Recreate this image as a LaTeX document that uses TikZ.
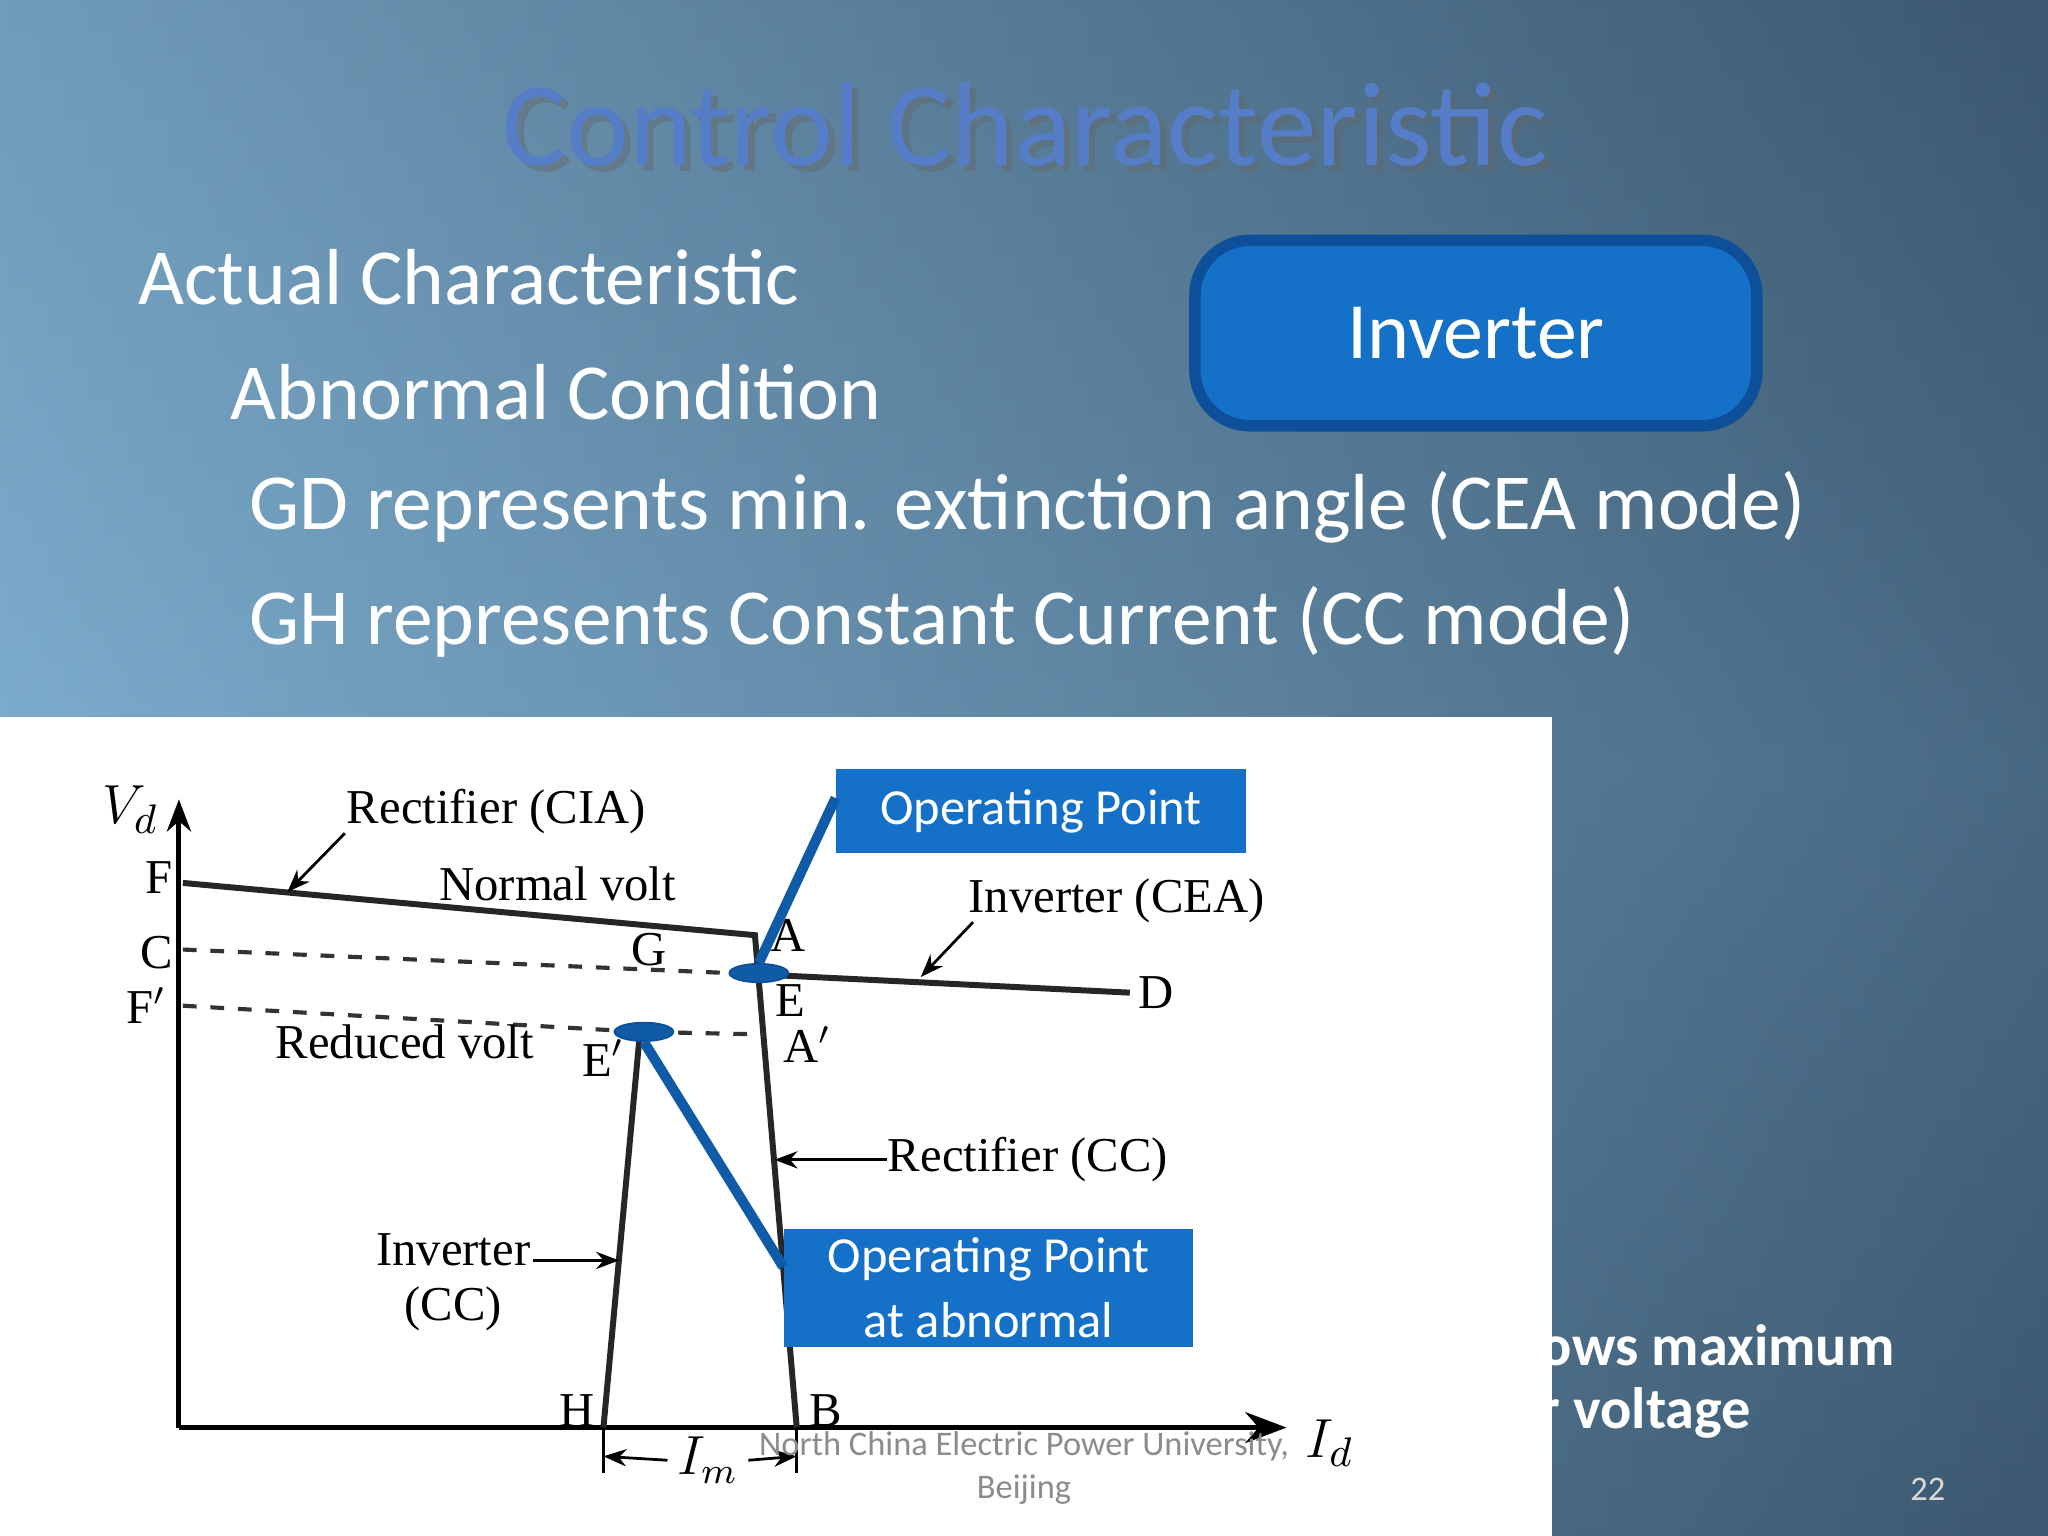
\documentclass[tikz,border=0pt]{standalone}
\usepackage{fontspec}
\setmainfont{Carlito}
\newfontfamily\gfont{Liberation Serif}
\usetikzlibrary{arrows.meta,shapes.geometric}
\definecolor{boxblue}{HTML}{1570C8}
\definecolor{boxedge}{HTML}{0E4F9A}
\definecolor{ptblue}{HTML}{0F5BA8}
\tikzset{
  lbl/.style={font=\gfont\fontsize{10.6}{12}\selectfont, inner sep=0pt},
  body/.style={font=\fontsize{17.3}{20}\selectfont, text=white, anchor=west, inner sep=0pt},
  curve/.style={line width=1.3pt, black!85},
  dash2/.style={dashed, line width=0.9pt, black!80},
  lead/.style={line width=0.6pt, -{Stealth[length=5pt]}},
  opbox/.style={fill=boxblue, text=white, font=\fontsize{11}{14}\selectfont, align=center, inner sep=0pt},
  ell/.style={ellipse, fill=ptblue, draw=boxedge, minimum width=0.45cm, minimum height=0.14cm, inner sep=0pt}
}
\begin{document}
\begin{tikzpicture}[x=0.01cm,y=-0.01cm]
\useasboundingbox (0,0) rectangle (1568,1176);
\shade[left color={rgb,255:red,140;green,192;blue,226}, right color={rgb,255:red,60;green,88;blue,112}] (0,0) rectangle (1568,1176);
\shade[top color={rgb,255:red,60;green,88;blue,112}, bottom color={rgb,255:red,60;green,88;blue,112}, middle color={rgb,255:red,95;green,135;blue,165}, opacity=0.35] (0,0) rectangle (1568,1176);
% title
\node[font=\fontsize{26}{30}\selectfont, text=black!60, opacity=0.45] at (790,100) {Control Characteristic};
\node[font=\fontsize{26}{30}\selectfont, text={rgb,255:red,85;green,125;blue,200}] (title) at (785,95) {Control Characteristic};
\node[body] (t1) at (105,212) {Actual Characteristic};
\node[body] (t2) at (176,300) {Abnormal Condition};
\node[body] (t3) at (190,388) {GD represents min. extinction angle (CEA mode)};
\node[body] (t4) at (190,476) {GH represents Constant Current (CC mode)};
\node[draw=boxedge, line width=2.5pt, fill=boxblue, rounded corners=12pt, minimum width=4.3cm, minimum height=1.42cm, text=white, font=\fontsize{17.4}{20}\selectfont] (inv) at (1130,255) {Inverter};
% bottom right text
\node[font=\bfseries\fontsize{12.7}{15}\selectfont, text=white, anchor=west, inner sep=0pt] (b1) at (1168,1030) {lows maximum};
\node[font=\bfseries\fontsize{12.7}{15}\selectfont, text=white, anchor=west, inner sep=0pt] (b2) at (1178,1082) {r voltage};
\node[font=\fontsize{7.5}{8}\selectfont, text=white!85!black] (pg) at (1476,1140) {22};
% white panel
\fill[white] (0,549) rectangle (1188,1176);
% axes
\coordinate (O) at (137,1093);
\coordinate (Vt) at (137,612);
\coordinate (It) at (985,1093);
\draw[line width=1.1pt, -{Stealth[length=7pt]}] (O) -- (Vt);
\draw[line width=1.1pt, -{Stealth[length=9pt]}] (O) -- (It);
\node[lbl, font=\gfont\itshape\fontsize{13}{14}\selectfont] (vd) at (100,620) {$V_d$};
\node[lbl, font=\gfont\itshape\fontsize{13}{14}\selectfont] (id) at (1018,1105) {$I_d$};
% points
\coordinate (F) at (140,676);
\coordinate (A) at (578,716);
\coordinate (B) at (610,1093);
\coordinate (C) at (140,727);
\coordinate (G) at (490,742);
\coordinate (E) at (581,746);
\coordinate (D) at (865,760);
\coordinate (Fp) at (140,770);
\coordinate (Ep) at (490,790);
\coordinate (Ap) at (585,792);
\coordinate (H) at (462,1093);
\draw[curve] (F) -- (A) -- (B);
\draw[dash2] (C) -- (E);
\draw[curve] (E) -- (D);
\draw[dash2] (Fp) -- (Ep) -- (Ap);
\draw[curve] (Ep) -- (H);
% letters
\node[lbl] (lF) at (122,672) {F};
\node[lbl] (lC) at (120,729) {C};
\node[lbl] (lFp) at (112,770) {F$'$};
\node[lbl] (lG) at (497,727) {G};
\node[lbl] (lA) at (603,716) {A};
\node[lbl] (lE) at (605,766) {E};
\node[lbl] (lEp) at (462,810) {E$'$};
\node[lbl] (lAp) at (618,800) {A$'$};
\node[lbl] (lD) at (885,760) {D};
\node[lbl] (lH) at (442,1080) {H};
\node[lbl] (lB) at (632,1080) {B};
% labels
\node[lbl] (rcia) at (380,621) {Rectifier (CIA)};
\coordinate (rciaT) at (220,683);
\draw[lead] (264,638) -- (rciaT);
\node[lbl] (nv) at (427,677) {Normal volt};
\node[lbl] (icea) at (855,690) {Inverter (CEA)};
\coordinate (iceaT) at (705,748);
\draw[lead] (745,706) -- (iceaT);
\node[lbl] (rv) at (310,798) {Reduced volt};
\node[lbl] (rcc) at (787,888) {Rectifier (CC)};
\coordinate (rccT) at (593,888);
\draw[lead] (rcc.west) -- (rccT);
\node[lbl, align=center] (icc) at (347,982) {Inverter\\(CC)};
\coordinate (iccT) at (474,965);
\draw[lead] (408,965) -- (iccT);
% Im
\coordinate (m1) at (462,1115);
\coordinate (m2) at (610,1115);
\draw[line width=0.6pt] (H) -- (462,1128);
\draw[line width=0.6pt] (B) -- (610,1128);
\node[lbl, font=\gfont\itshape\fontsize{12}{14}\selectfont, inner sep=2pt] (im) at (542,1118) {$I_m$};
\draw[lead] (im.west) -- (m1);
\draw[lead] (im.east) -- (m2);
% footer
\node[font=\fontsize{7.5}{9.5}\selectfont, text=black!45, align=center] (foot) at (784,1124) {North China Electric Power University,\\Beijing};
% operating points
\node[ell] (p1) at (581,745) {};
\node[ell] (p2) at (493,790) {};
\node[opbox, minimum width=3.13cm, minimum height=0.64cm] (op1) at (797,621) {Operating Point};
\node[opbox, minimum width=3.13cm, minimum height=0.9cm] (op2) at (757,986) {Operating Point\\at abnormal};
\draw[ptblue, line width=2.2pt] (op1.west) ++(0,-10) -- (p1.north);
\draw[ptblue, line width=2.2pt] (op2.west) ++(0,-16) -- (p2.south);
\end{tikzpicture}
\end{document}
